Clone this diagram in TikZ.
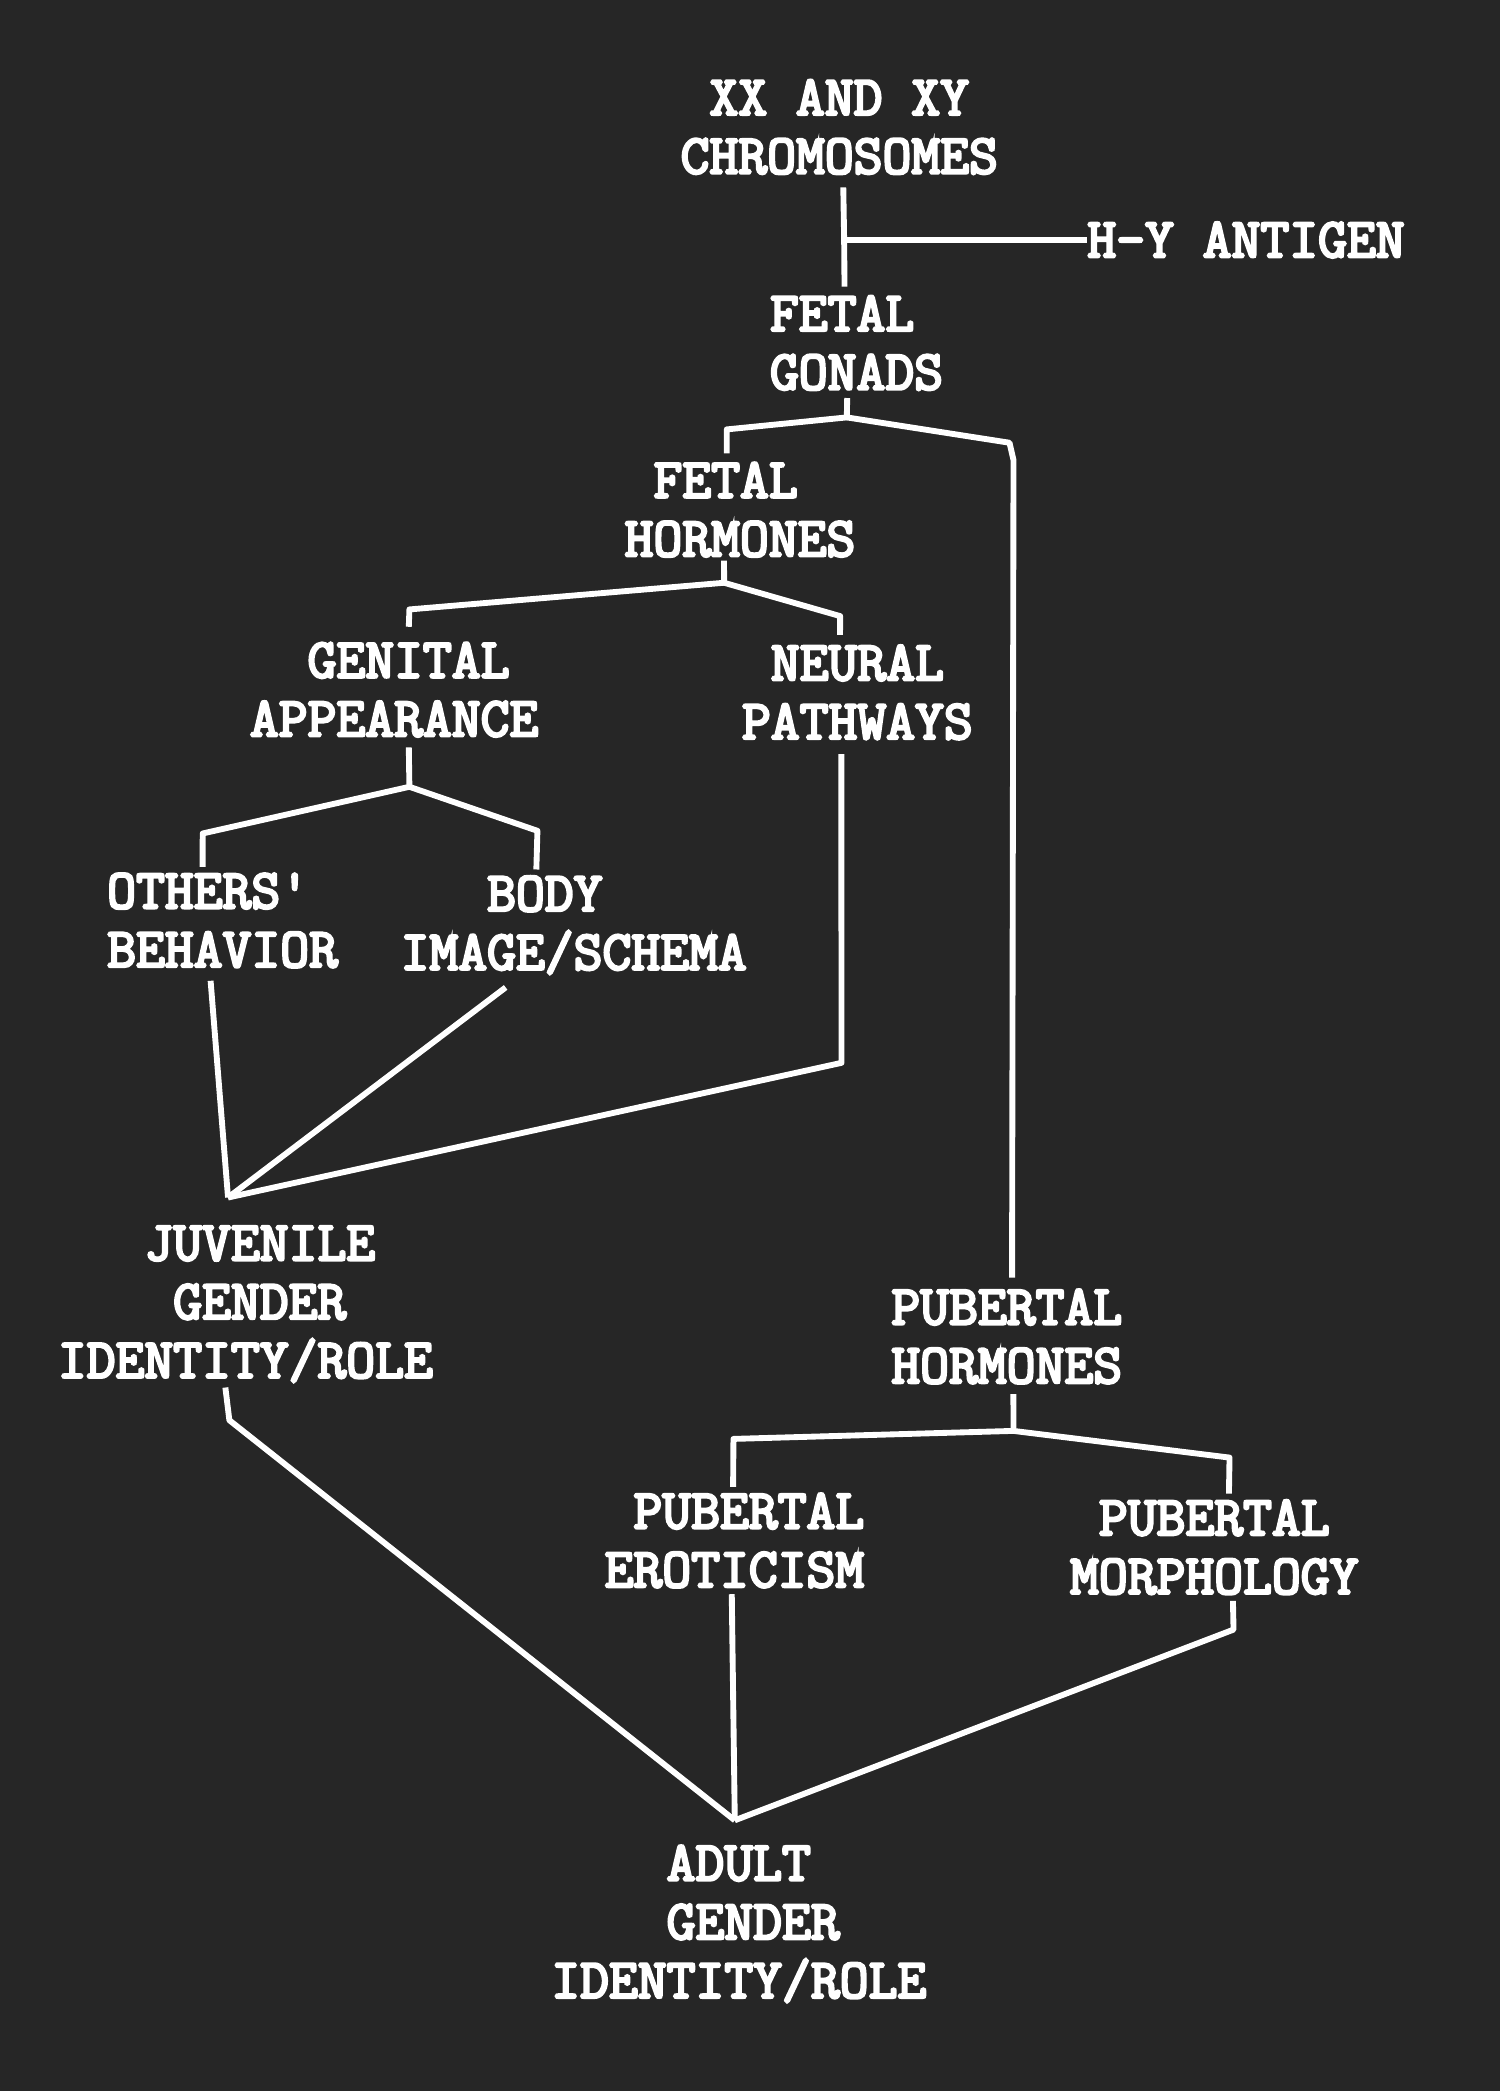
\documentclass[tikz,border=0pt]{standalone}
\usepackage{fontspec}
\usetikzlibrary{calc}
\newfontfamily\tw[FakeBold=4.5]{Latin Modern Mono}
\definecolor{bg}{RGB}{38,38,38}
\newcommand\tline[1]{\smash{#1}\rule{0pt}{\fontcharht\font`H}}
\begin{document}
\begin{tikzpicture}[x=0.5pt,y=-0.5pt,
  txt/.style={text=white, font=\tw\fontsize{21pt}{22pt}\selectfont, inner sep=0pt, align=left, anchor=north west},
  link/.style={draw=white, line width=2.2pt, line join=round}]
\fill[bg] (0,0) rectangle (1125,1568);
\useasboundingbox (0,0) rectangle (1125,1568);
% nodes
\node[txt] (chrom) at (510,60) {\tline{\hphantom{X}XX AND XY}\\\tline{CHROMOSOMES}};
\node[txt, anchor=west] (hy) at (815,180) {\tline{H-Y ANTIGEN}};
\node[txt] (gonads) at (577,222) {\tline{FETAL}\\\tline{GONADS}};
\node[txt] (fhorm) at (468,347) {\tline{\hphantom{X}FETAL}\\\tline{HORMONES}};
\node[txt] (genital) at (187,482) {\tline{\hphantom{XX}GENITAL}\\\tline{APPEARANCE}};
\node[txt] (neural) at (556,484) {\tline{\hphantom{X}NEURAL}\\\tline{PATHWAYS}};
\node[txt] (others) at (80,655) {\tline{OTHERS\textquotesingle}\\\tline{BEHAVIOR}};
\node[txt] (body) at (300,657) {\tline{\hphantom{XXX}BODY}\\\tline{IMAGE/SCHEMA}};
\node[txt] (juv) at (43,919) {\tline{\hphantom{XXX}JUVENILE}\\\tline{\hphantom{XXXX}GENDER}\\\tline{IDENTITY/ROLE}};
\node[txt] (phorm) at (668,967) {\tline{PUBERTAL}\\\tline{HORMONES}};
\node[txt] (perot) at (453,1120) {\tline{\hphantom{X}PUBERTAL}\\\tline{EROTICISM}};
\node[txt] (pmorph) at (802,1125) {\tline{\hphantom{X}PUBERTAL}\\\tline{MORPHOLOGY}};
\node[txt] (adult) at (413,1384) {\tline{\hphantom{XXXX}ADULT}\\\tline{\hphantom{XXXX}GENDER}\\\tline{IDENTITY/ROLE}};
% junctions
\coordinate (jhy) at (633,180);
\coordinate (jg) at (635,313);
\coordinate (jf) at (543,437);
\coordinate (jga) at (307,590);
\coordinate (jj) at ($(juv.north)+(-13,-21)$);
\coordinate (jp) at (760,1073);
\coordinate (ja) at ($(adult.north)+(-3,-19)$);
% connectors
\draw[link] ($(chrom.south)+(3,10)$) -- (jhy) -- ($(gonads.north)+(-9,-7)$);
\draw[link] (jhy) -- (hy.west);
\draw[link] ($(gonads.south)+(-7,6)$) -- (jg) -- (545,322) -- ($(fhorm.north)+(-10,-7)$);
\draw[link] (jg) -- (757,332) -- (760,345) -- ($(phorm.north)+(4,-9)$);
\draw[link] ($(fhorm.south)+(-12,3)$) -- (jf) -- (307,457) -- ($(genital.north)+(11,-12)$);
\draw[link] (jf) -- (630,462) -- ($(neural.north)+(-13,-8)$);
\draw[link] ($(genital.south)+(11,8)$) -- (jga) -- (152,625) -- ($(others.north)+(-15,-5)$);
\draw[link] (jga) -- (403,623) -- ($(body.north)+(-28,-5)$);
\draw[link] ($(others.south)+(-9,10)$) -- (jj);
\draw[link] ($(body.south)+(-51,13)$) -- (jj);
\draw[link] ($(neural.south)+(-12,11)$) -- (631,797) -- (jj);
\draw[link] ($(phorm.south)+(5,8)$) -- (jp) -- (550,1079) -- ($(perot.north)+(-1,-5)$);
\draw[link] (jp) -- (922,1093) -- ($(pmorph.north)+(11,-5)$);
\draw[link] ($(juv.south)+(-15,7)$) -- (172,1065) -- (ja);
\draw[link] ($(perot.south)+(-2,5)$) -- (ja);
\draw[link] ($(pmorph.south)+(14,5)$) -- (925,1222) -- (ja);
\end{tikzpicture}
\end{document}
